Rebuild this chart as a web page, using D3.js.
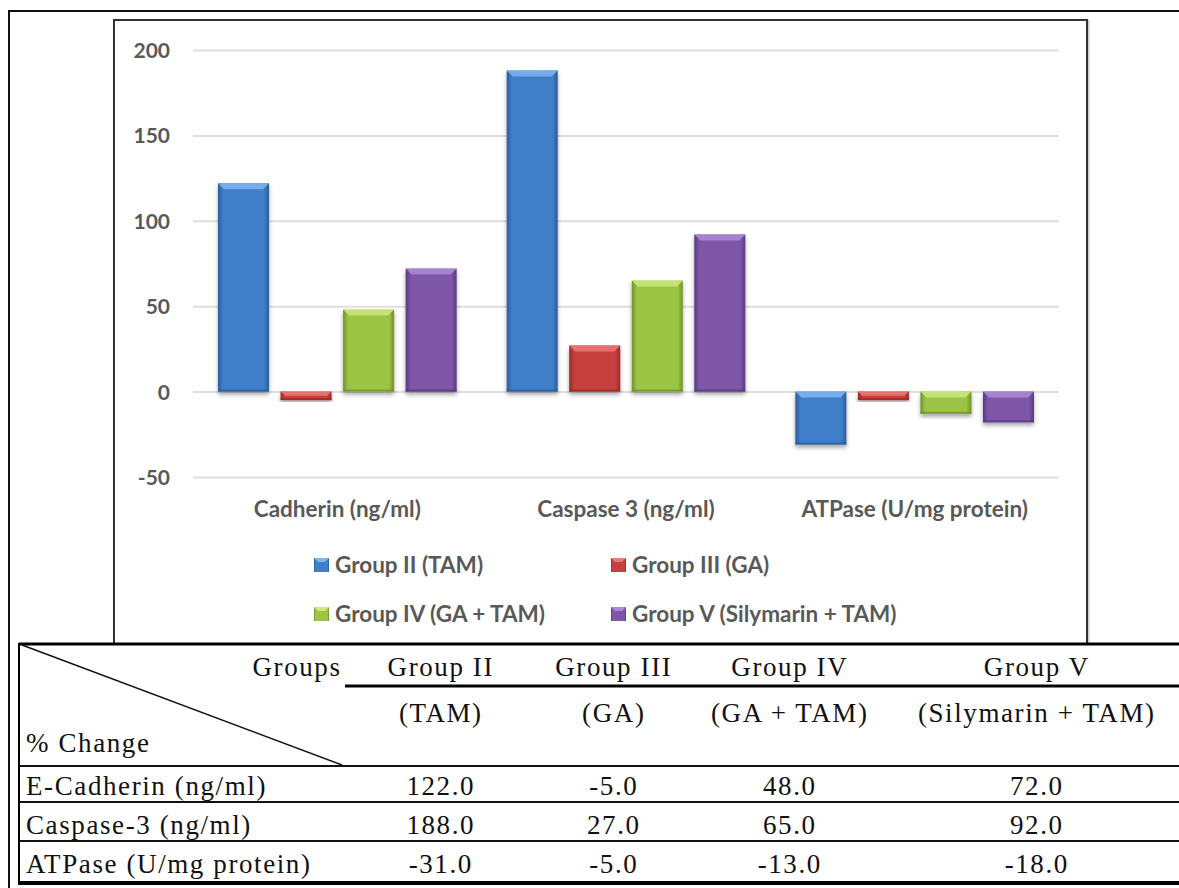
<!DOCTYPE html>
<html>
<head>
<meta charset="utf-8">
<script src="https://cdn.jsdelivr.net/npm/d3@7"></script>
<style>
  html, body { margin: 0; padding: 0; background: #fff; }
  svg { display: block; }
</style>
</head>
<body>
<svg id="chart" width="1179" height="888"></svg>
<script>
// ---------- DATA ----------
const categories = ["Cadherin (ng/ml)", "Caspase 3 (ng/ml)", "ATPase (U/mg protein)"];
const groups = ["Group II (TAM)", "Group III (GA)", "Group IV (GA + TAM)", "Group V (Silymarin + TAM)"];
const groupII  = [122, 188, -31];
const groupIII = [-5, 27, -5];
const groupIV  = [48, 65, -13];
const groupV   = [72, 92, -18];
const yTicks = [-50, 0, 50, 100, 150, 200];

const tableRowLabels = ["E-Cadherin (ng/ml)", "Caspase-3 (ng/ml)", "ATPase (U/mg protein)"];
const tableHead1 = ["Group II", "Group III", "Group IV", "Group V"];
const tableHead2 = ["(TAM)", "(GA)", "(GA + TAM)", "(Silymarin + TAM)"];
const tableCornerTop = "Groups";
const tableCornerBottom = "% Change";

const series = [groupII, groupIII, groupIV, groupV];
const colors = ["#3f7ec9", "#c8403d", "#9cc445", "#7d57a8"];
const darkColors = ["#2a5c9c", "#962b29", "#6f9226", "#583a80"];
const lightColors = ["#7fb4ee", "#ea7a77", "#cde77c", "#ab8bd6"];

// ---------- SETUP ----------
const svg = d3.select("#chart");
const defs = svg.append("defs");

const f = defs.append("filter").attr("id", "shadow")
  .attr("x", "-20%").attr("y", "-20%").attr("width", "140%").attr("height", "140%");
f.append("feDropShadow").attr("dx", 0).attr("dy", 3).attr("stdDeviation", 2)
  .attr("flood-color", "#000").attr("flood-opacity", 0.35);

const fb = defs.append("filter").attr("id", "boxshadow")
  .attr("x", "-5%").attr("y", "-5%").attr("width", "110%").attr("height", "110%");
fb.append("feDropShadow").attr("dx", 1).attr("dy", 1).attr("stdDeviation", 1)
  .attr("flood-color", "#000").attr("flood-opacity", 0.3);

colors.forEach((c, i) => {
  const g = defs.append("linearGradient").attr("id", "grad" + i)
    .attr("x1", "0%").attr("x2", "100%").attr("y1", "0%").attr("y2", "0%");
  g.append("stop").attr("offset", "0%").attr("stop-color", darkColors[i]);
  g.append("stop").attr("offset", "10%").attr("stop-color", c);
  g.append("stop").attr("offset", "90%").attr("stop-color", c);
  g.append("stop").attr("offset", "100%").attr("stop-color", darkColors[i]);
});

// Outer frame
svg.append("rect").attr("x", 9).attr("y", 11).attr("width", 1200).attr("height", 900)
  .attr("fill", "none").attr("stroke", "#111").attr("stroke-width", 2);

// Chart box
svg.append("rect").attr("x", 114).attr("y", 20).attr("width", 973).attr("height", 640)
  .attr("fill", "#fff").attr("stroke", "#333").attr("stroke-width", 2)
  .attr("filter", "url(#boxshadow)");

// ---------- SCALES ----------
const plotLeft = 193, plotRight = 1059;
const x0 = d3.scaleBand().domain(categories).range([plotLeft, plotRight]).padding(0);
const x1 = d3.scaleBand().domain(d3.range(groups.length)).range([0, x0.bandwidth()])
  .paddingInner(0.184).paddingOuter(0.4);
const y = d3.scaleLinear().domain([-50, 200]).range([477, 50]);

// Gridlines + tick labels
const yAxis = d3.axisLeft(y).tickValues(yTicks).tickFormat(d => String(d))
  .tickSize(-(plotRight - plotLeft)).tickPadding(23);
const ga = svg.append("g").attr("transform", `translate(${plotLeft},0)`).call(yAxis);
ga.select(".domain").remove();
ga.selectAll(".tick line").attr("stroke", "#dedede").attr("stroke-width", 2);
ga.selectAll(".tick text")
  .attr("font-family", "Lato, 'Open Sans', sans-serif").attr("font-weight", 700)
  .attr("font-size", 21).attr("fill", "#595959").attr("dy", "0.36em");

// ---------- BARS ----------
const barData = [];
categories.forEach((cat, ci) => {
  series.forEach((s, gi) => barData.push({ cat, gi, v: s[ci] }));
});

const bars = svg.append("g").selectAll("g.bar").data(barData).join("g").attr("class", "bar");
bars.each(function(d) {
  const g = d3.select(this);
  const bx = x0(d.cat) + x1(d.gi);
  const bw = x1.bandwidth();
  const yt = Math.min(y(d.v), y(0));
  const bh = Math.abs(y(d.v) - y(0));
  g.append("rect").attr("x", bx).attr("y", yt).attr("width", bw).attr("height", bh)
    .attr("fill", `url(#grad${d.gi})`).attr("filter", "url(#shadow)");
  const b = Math.min(6, bh / 2);
  g.append("polygon")
    .attr("points", [[bx, yt], [bx + bw, yt], [bx + bw - b, yt + b], [bx + b, yt + b]].map(p => p.join(",")).join(" "))
    .attr("fill", lightColors[d.gi]).attr("opacity", 0.85);
  g.append("rect").attr("x", bx).attr("y", yt + bh - 2).attr("width", bw).attr("height", 2)
    .attr("fill", darkColors[d.gi]).attr("opacity", 0.8);
});

// Category labels
svg.append("g").selectAll("text").data(categories).join("text")
  .attr("x", d => x0(d) + x0.bandwidth() / 2).attr("y", 517)
  .attr("text-anchor", "middle")
  .attr("font-family", "Lato, 'Open Sans', sans-serif").attr("font-weight", 700)
  .attr("font-size", 22.5).attr("fill", "#595959")
  .text(d => d);

// ---------- LEGEND ----------
const legendPos = [[314, 573], [611, 573], [314, 622], [611, 622]];
const lg = svg.append("g").selectAll("g").data(groups).join("g")
  .attr("transform", (d, i) => `translate(${legendPos[i][0]},${legendPos[i][1]})`);
lg.append("rect").attr("x", 0).attr("y", -15).attr("width", 15).attr("height", 14)
  .attr("fill", (d, i) => `url(#grad${i})`);
lg.append("polygon").attr("points", "0,-15 15,-15 11,-11 4,-11")
  .attr("fill", (d, i) => lightColors[i]);
lg.append("text").attr("x", 21).attr("y", 0)
  .attr("font-family", "Lato, 'Open Sans', sans-serif").attr("font-weight", 700)
  .attr("font-size", 22.5).attr("fill", "#595959")
  .text(d => d);

// ---------- TABLE ----------
const tbl = svg.append("g");
const tFont = "'Liberation Serif', 'Times New Roman', serif";
const tLeft = 19, tRight = 1185;
tbl.append("rect").attr("x", tLeft).attr("y", 643).attr("width", tRight - tLeft).attr("height", 242)
  .attr("fill", "#fff");
tbl.append("line").attr("x1", tLeft).attr("x2", tRight).attr("y1", 644).attr("y2", 644)
  .attr("stroke", "#000").attr("stroke-width", 3);
tbl.append("line").attr("x1", 345).attr("x2", tRight).attr("y1", 686).attr("y2", 686)
  .attr("stroke", "#000").attr("stroke-width", 3);
tbl.append("line").attr("x1", tLeft).attr("x2", tRight).attr("y1", 766).attr("y2", 766)
  .attr("stroke", "#111").attr("stroke-width", 2);
[802, 841].forEach(yy => {
  tbl.append("line").attr("x1", tLeft).attr("x2", tRight).attr("y1", yy).attr("y2", yy)
    .attr("stroke", "#111").attr("stroke-width", 2);
});
tbl.append("line").attr("x1", tLeft).attr("x2", tRight).attr("y1", 883).attr("y2", 883)
  .attr("stroke", "#000").attr("stroke-width", 4);
tbl.append("line").attr("x1", tLeft).attr("x2", tLeft).attr("y1", 643).attr("y2", 885)
  .attr("stroke", "#000").attr("stroke-width", 2);
tbl.append("line").attr("x1", 22).attr("y1", 645).attr("x2", 342).attr("y2", 765)
  .attr("stroke", "#111").attr("stroke-width", 1.5);

const colCenters = [440, 613, 789, 1036];
const LS = 1.6;
const txt = (x, yy, s, anchor) => {
  const a = anchor || "middle";
  const dx = a === "middle" ? LS / 2 : (a === "end" ? LS : 0);
  return tbl.append("text").attr("x", x + dx).attr("y", yy)
    .attr("text-anchor", a).attr("font-family", tFont)
    .attr("font-size", 27).attr("letter-spacing", LS).attr("fill", "#111").text(s);
};

txt(340, 676, tableCornerTop, "end");
txt(26, 752, tableCornerBottom, "start");
tableHead1.forEach((s, i) => txt(colCenters[i], 676, s));
tableHead2.forEach((s, i) => txt(colCenters[i], 722, s));
const rowBase = [795, 834, 873];
tableRowLabels.forEach((s, r) => {
  txt(26, rowBase[r], s, "start");
  series.forEach((ser, i) => txt(colCenters[i], rowBase[r], ser[r].toFixed(1)));
});
</script>
</body>
</html>
